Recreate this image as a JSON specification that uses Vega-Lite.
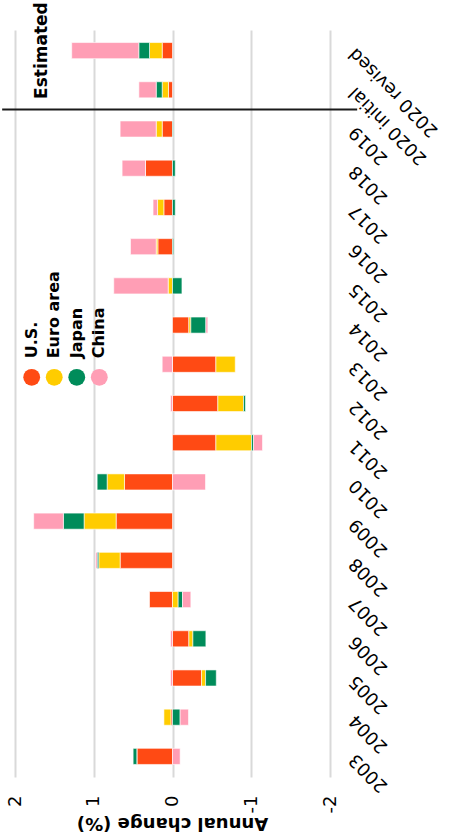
{
  "$schema": "https://vega.github.io/schema/vega-lite/v6.json",
  "width": 315,
  "height": 747,
  "autosize": "none",
  "padding": {"left": 15, "top": 30, "right": 121, "bottom": 61},
  "config": {"view": {"stroke": null}, "font": "DejaVu Sans"},
  "datasets": {
    "bars": [
      {"year": "2003", "series": "U.S.", "value": 0.453},
      {"year": "2003", "series": "Euro area", "value": 0},
      {"year": "2003", "series": "Japan", "value": 0.047},
      {"year": "2003", "series": "China", "value": -0.097},
      {"year": "2004", "series": "U.S.", "value": 0.02},
      {"year": "2004", "series": "Euro area", "value": 0.089},
      {"year": "2004", "series": "Japan", "value": -0.097},
      {"year": "2004", "series": "China", "value": -0.106},
      {"year": "2005", "series": "U.S.", "value": -0.369},
      {"year": "2005", "series": "Euro area", "value": -0.051},
      {"year": "2005", "series": "Japan", "value": -0.136},
      {"year": "2005", "series": "China", "value": 0.025},
      {"year": "2006", "series": "U.S.", "value": -0.208},
      {"year": "2006", "series": "Euro area", "value": -0.051},
      {"year": "2006", "series": "Japan", "value": -0.165},
      {"year": "2006", "series": "China", "value": 0.025},
      {"year": "2007", "series": "U.S.", "value": 0.292},
      {"year": "2007", "series": "Euro area", "value": -0.072},
      {"year": "2007", "series": "Japan", "value": -0.055},
      {"year": "2007", "series": "China", "value": -0.106},
      {"year": "2008", "series": "U.S.", "value": 0.665},
      {"year": "2008", "series": "Euro area", "value": 0.271},
      {"year": "2008", "series": "Japan", "value": 0.021},
      {"year": "2008", "series": "China", "value": 0.021},
      {"year": "2009", "series": "U.S.", "value": 0.716},
      {"year": "2009", "series": "Euro area", "value": 0.407},
      {"year": "2009", "series": "Japan", "value": 0.263},
      {"year": "2009", "series": "China", "value": 0.377},
      {"year": "2010", "series": "U.S.", "value": 0.61},
      {"year": "2010", "series": "Euro area", "value": 0.22},
      {"year": "2010", "series": "Japan", "value": 0.127},
      {"year": "2010", "series": "China", "value": -0.419},
      {"year": "2011", "series": "U.S.", "value": -0.551},
      {"year": "2011", "series": "Euro area", "value": -0.453},
      {"year": "2011", "series": "Japan", "value": -0.025},
      {"year": "2011", "series": "China", "value": -0.114},
      {"year": "2012", "series": "U.S.", "value": -0.576},
      {"year": "2012", "series": "Euro area", "value": -0.326},
      {"year": "2012", "series": "Japan", "value": -0.025},
      {"year": "2012", "series": "China", "value": 0.025},
      {"year": "2013", "series": "U.S.", "value": -0.551},
      {"year": "2013", "series": "Euro area", "value": -0.246},
      {"year": "2013", "series": "Japan", "value": 0},
      {"year": "2013", "series": "China", "value": 0.131},
      {"year": "2014", "series": "U.S.", "value": -0.208},
      {"year": "2014", "series": "Euro area", "value": -0.025},
      {"year": "2014", "series": "Japan", "value": -0.191},
      {"year": "2014", "series": "China", "value": -0.025},
      {"year": "2015", "series": "U.S.", "value": 0},
      {"year": "2015", "series": "Euro area", "value": 0.055},
      {"year": "2015", "series": "Japan", "value": -0.12},
      {"year": "2015", "series": "China", "value": 0.691},
      {"year": "2016", "series": "U.S.", "value": 0.186},
      {"year": "2016", "series": "Euro area", "value": 0.021},
      {"year": "2016", "series": "Japan", "value": -0.015},
      {"year": "2016", "series": "China", "value": 0.326},
      {"year": "2017", "series": "U.S.", "value": 0.11},
      {"year": "2017", "series": "Euro area", "value": 0.08},
      {"year": "2017", "series": "Japan", "value": -0.035},
      {"year": "2017", "series": "China", "value": 0.057},
      {"year": "2018", "series": "U.S.", "value": 0.343},
      {"year": "2018", "series": "Euro area", "value": 0},
      {"year": "2018", "series": "Japan", "value": -0.035},
      {"year": "2018", "series": "China", "value": 0.297},
      {"year": "2019", "series": "U.S.", "value": 0.131},
      {"year": "2019", "series": "Euro area", "value": 0.076},
      {"year": "2019", "series": "Japan", "value": -0.01},
      {"year": "2019", "series": "China", "value": 0.458},
      {"year": "2020 initial", "series": "U.S.", "value": 0.051},
      {"year": "2020 initial", "series": "Euro area", "value": 0.08},
      {"year": "2020 initial", "series": "Japan", "value": 0.076},
      {"year": "2020 initial", "series": "China", "value": 0.22},
      {"year": "2020 revised", "series": "U.S.", "value": 0.131},
      {"year": "2020 revised", "series": "Euro area", "value": 0.161},
      {"year": "2020 revised", "series": "Japan", "value": 0.136},
      {"year": "2020 revised", "series": "China", "value": 0.852}
    ],
    "legend": [
      {"series": "U.S."},
      {"series": "Euro area"},
      {"series": "Japan"},
      {"series": "China"}
    ]
  },
  "layer": [
    {
      "data": {"name": "bars"},
      "transform": [
        {"calculate": "indexof(['U.S.', 'Euro area', 'Japan', 'China'], datum.series)", "as": "stack_rank"}
      ],
      "mark": {"type": "bar", "stroke": "white", "strokeWidth": 0.6},
      "encoding": {
        "y": {
          "field": "year",
          "type": "nominal",
          "scale": {
            "domain": ["2020 revised", "2020 initial", "2019", "2018", "2017", "2016", "2015", "2014", "2013", "2012", "2011", "2010", "2009", "2008", "2007", "2006", "2005", "2004", "2003"],
            "paddingInner": 0.59,
            "paddingOuter": 0.32
          },
          "axis": {
            "orient": "right",
            "domain": false,
            "ticks": false,
            "grid": false,
            "title": null,
            "labelAngle": 225,
            "labelAlign": "right",
            "labelBaseline": "middle",
            "labelFontSize": 18,
            "labelPadding": 22,
            "labelColor": "#000000",
            "labelLimit": 300
          }
        },
        "x": {
          "field": "value",
          "type": "quantitative",
          "stack": "zero",
          "scale": {"domain": [-2, 2], "reverse": true, "nice": false},
          "axis": {
            "orient": "bottom",
            "values": [-2, -1, 0, 1, 2],
            "grid": true,
            "gridColor": "#d9d9d9",
            "gridWidth": 2,
            "domain": false,
            "ticks": false,
            "tickSize": 0,
            "labelAngle": 270,
            "labelAlign": "right",
            "labelBaseline": "middle",
            "labelFontSize": 18,
            "labelPadding": 18,
            "labelColor": "#000000",
            "labelExpr": "toString(datum.value)",
            "title": "Annual change (%)",
            "titleAngle": 180,
            "titleFontSize": 18,
            "titleFontWeight": "bold",
            "titleColor": "#000000",
            "titleX": 157,
            "titleY": 45,
            "titleAlign": "center",
            "titleBaseline": "middle"
          }
        },
        "order": {"field": "stack_rank", "type": "quantitative", "sort": "ascending"},
        "color": {
          "field": "series",
          "type": "nominal",
          "scale": {
            "domain": ["U.S.", "Euro area", "Japan", "China"],
            "range": ["#FF4A14", "#FFCC00", "#008C5A", "#FF9EB5"]
          },
          "legend": null
        }
      }
    },
    {
      "data": {"values": [{}]},
      "mark": {"type": "rule", "color": "#1a1a1a", "strokeWidth": 2},
      "encoding": {
        "y": {"datum": "2020 initial", "type": "nominal", "bandPosition": 1.72},
        "x": {"datum": 2.163, "type": "quantitative"},
        "x2": {"datum": -2.345}
      }
    },
    {
      "data": {"values": [{}]},
      "mark": {"type": "text", "text": "Estimated", "angle": 270, "align": "center", "baseline": "middle", "fontSize": 17, "fontWeight": "bold", "color": "#000000"},
      "encoding": {
        "y": {"datum": "2020 revised", "type": "nominal"},
        "x": {"datum": 1.663, "type": "quantitative"}
      }
    },
    {
      "data": {"name": "legend"},
      "mark": {"type": "circle", "size": 284, "opacity": 1},
      "encoding": {
        "y": {"datum": "2013", "type": "nominal", "bandPosition": 1.31},
        "x": {"datum": 1.788, "type": "quantitative"},
        "xOffset": {"field": "series", "type": "nominal", "scale": {"type": "point", "domain": ["U.S.", "Euro area", "Japan", "China"], "range": [0, 67.6], "padding": 0}},
        "color": {"field": "series", "type": "nominal", "legend": null}
      }
    },
    {
      "data": {"name": "legend"},
      "mark": {"type": "text", "angle": 270, "align": "left", "baseline": "middle", "dx": 19, "fontSize": 16, "fontWeight": "bold", "color": "#000000"},
      "encoding": {
        "y": {"datum": "2013", "type": "nominal", "bandPosition": 1.31},
        "x": {"datum": 1.788, "type": "quantitative"},
        "xOffset": {"field": "series", "type": "nominal", "scale": {"type": "point", "domain": ["U.S.", "Euro area", "Japan", "China"], "range": [0, 67.6], "padding": 0}},
        "text": {"field": "series"}
      }
    }
  ]
}
